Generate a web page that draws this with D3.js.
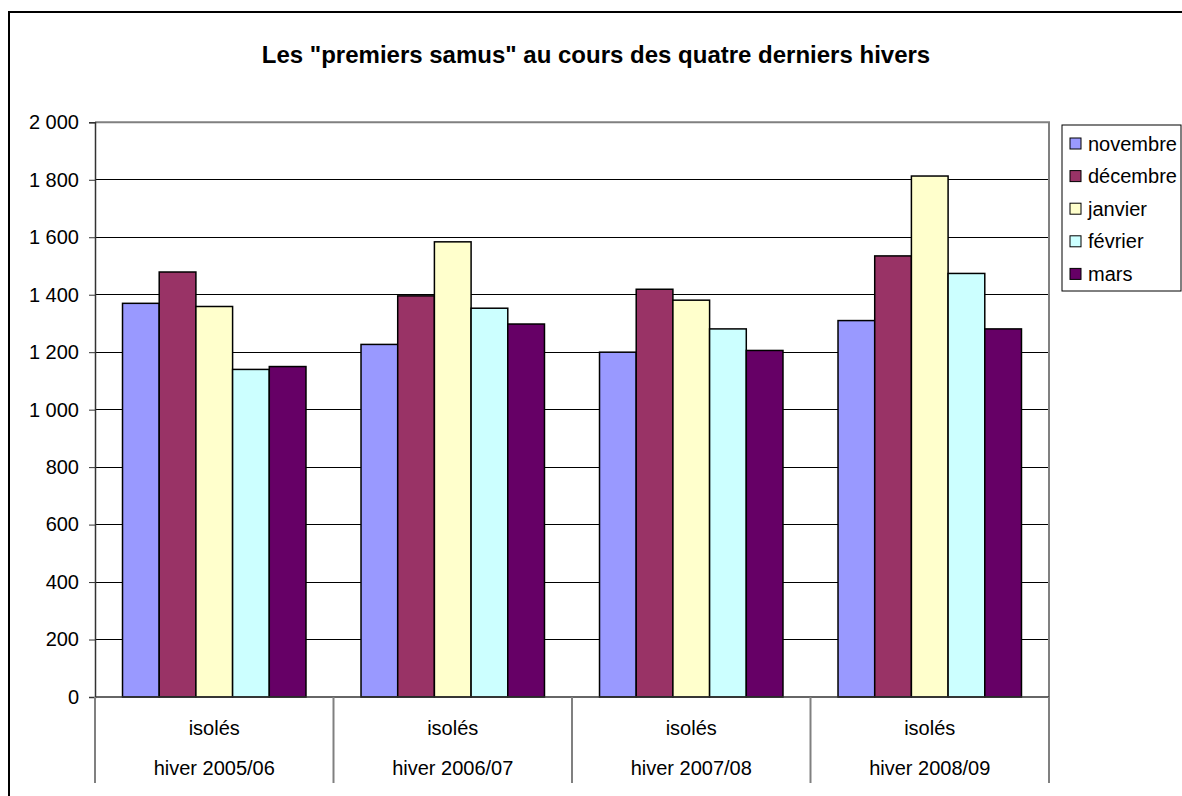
<!DOCTYPE html>
<html><head><meta charset="utf-8">
<script src="https://cdn.jsdelivr.net/npm/d3@7"></script>
<style>body{margin:0;background:#fff}svg{display:block}text{font-family:"Liberation Sans",Arial,sans-serif}</style>
</head><body><svg id="c" width="1182" height="796"></svg>
<script>
const categories = ["hiver 2005/06","hiver 2006/07","hiver 2007/08","hiver 2008/09"];
const subLabels = ["isolés","isolés","isolés","isolés"];
const months = ["novembre","décembre","janvier","février","mars"];
const novembre = [1370,1227,1200,1310];
const decembre = [1479,1396,1419,1535];
const janvier = [1359,1584,1381,1813];
const fevrier = [1140,1353,1281,1474];
const mars = [1150,1298,1206,1281];
const seriesValues = [novembre,decembre,janvier,fevrier,mars];
const colors = ["#9999FF","#993366","#FFFFCC","#CCFFFF","#660066"];
const yTicks = [0,200,400,600,800,1000,1200,1400,1600,1800,2000];
const title = 'Les "premiers samus" au cours des quatre derniers hivers';

const svg = d3.select("#c");
const L=95,R=1049,T=122.3,B=697;
const fmt = d3.formatLocale({decimal:",",thousands:"\u00a0",grouping:[3],currency:["","€"]}).format(",");

// outer border
svg.append("rect").attr("x",9).attr("y",12).attr("width",1200).attr("height",800)
  .attr("fill","none").attr("stroke","#000").attr("stroke-width",2);

svg.append("text").attr("x",596).attr("y",63).attr("text-anchor","middle")
  .attr("font-size",24).attr("font-weight","bold").text(title);

const x0 = d3.scaleBand().domain(categories).range([L,R]).padding(0);
const x1 = d3.scaleBand().domain(months).range([0,x0.bandwidth()]).paddingInner(0).paddingOuter(0.75);
const y = d3.scaleLinear().domain([0,2000]).range([B,T]);

// gridlines
svg.append("g").selectAll("line").data(yTicks.filter(d=>d>0&&d<2000)).join("line")
  .attr("x1",L).attr("x2",R).attr("y1",d=>y(d)).attr("y2",d=>y(d))
  .attr("stroke","#000").attr("stroke-width",1).attr("shape-rendering","crispEdges");
// plot border top/right
svg.append("path").attr("d",`M${L},${y(2000)}H${R}V${B}`).attr("fill","none")
  .attr("stroke","#808080").attr("stroke-width",2);

// bars
const g = svg.append("g");
categories.forEach((c,i)=>{
  months.forEach((m,j)=>{
    g.append("rect").attr("x",x0(c)+x1(m)).attr("width",x1.bandwidth())
      .attr("y",y(seriesValues[j][i])).attr("height",y(0)-y(seriesValues[j][i]))
      .attr("fill",colors[j]).attr("stroke","#000").attr("stroke-width",1.5);
  });
});

// y axis
const ya = d3.axisLeft(y).tickValues(yTicks).tickSize(6).tickPadding(10).tickFormat(d=>fmt(d).replace(/\u00a0/g," "));
const yg = svg.append("g").attr("transform",`translate(${L},0)`).call(ya);
yg.select(".domain").attr("stroke","#333").attr("stroke-width",1.5);
yg.selectAll(".tick line").attr("stroke","#333");
yg.selectAll("text").attr("font-size",20).attr("fill","#000").attr("font-family",'"Liberation Sans",Arial,sans-serif');

// x axis
svg.append("line").attr("x1",L).attr("x2",R).attr("y1",B).attr("y2",B).attr("stroke","#333").attr("stroke-width",1.5);
const divs = categories.map(c=>x0(c)).concat([R]);
svg.append("g").selectAll("line").data(divs).join("line")
  .attr("x1",d=>d).attr("x2",d=>d).attr("y1",B).attr("y2",783)
  .attr("stroke","#808080").attr("stroke-width",2);
svg.append("g").selectAll("text").data(categories).join("text")
  .attr("x",d=>x0(d)+x0.bandwidth()/2).attr("y",735).attr("text-anchor","middle")
  .attr("font-size",20).text((d,i)=>subLabels[i]);
svg.append("g").selectAll("text").data(categories).join("text")
  .attr("x",d=>x0(d)+x0.bandwidth()/2).attr("y",775).attr("text-anchor","middle")
  .attr("font-size",20).text(d=>d);

// legend
const lg = svg.append("g");
lg.append("rect").attr("x",1062).attr("y",125).attr("width",119).attr("height",166)
  .attr("fill","#fff").attr("stroke","#000").attr("stroke-width",1);
months.forEach((m,j)=>{
  const cy = 143.5 + j*32.6;
  lg.append("rect").attr("x",1070).attr("y",cy-5.5).attr("width",11).attr("height",11)
    .attr("fill",colors[j]).attr("stroke","#000").attr("stroke-width",1);
  lg.append("text").attr("x",1088).attr("y",cy+7).attr("font-size",20).text(m);
});
</script></body></html>
